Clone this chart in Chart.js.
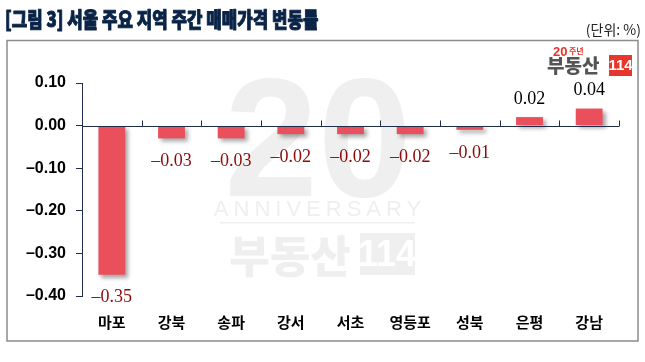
<!DOCTYPE html>
<html><head><meta charset="utf-8">
<script src="https://cdn.jsdelivr.net/npm/chart.js@4/dist/chart.umd.min.js"></script>
<style>
html,body{margin:0;padding:0;background:#fff;}
#wrap{position:relative;width:645px;height:362px;}
canvas{position:absolute;left:0;top:0;}
</style></head><body>
<div id="wrap"><canvas id="c" width="645" height="362"></canvas></div>
<script>
const titleText = "[그림 3] 서울 주요 지역 주간 매매가격 변동률";
const unitText = "(단위: %)";
const categories = ["마포","강북","송파","강서","서초","영등포","성북","은평","강남"];
const changeValues = [-0.35,-0.03,-0.03,-0.02,-0.02,-0.02,-0.01,0.02,0.04];
const yTicks = [0.10,0.00,-0.10,-0.20,-0.30,-0.40];

const fmt = v => (v < 0 ? "–" : "") + Math.abs(v).toFixed(2);

const decor = {
  id: 'decor',
  beforeDraw(chart) {
    const ctx = chart.ctx;
    ctx.save();
    ctx.fillStyle = '#fff';
    ctx.fillRect(0,0,chart.width,chart.height);
    // title (condensed headline look)
    ctx.save();
    ctx.translate(5, 19);
    ctx.scale(0.8, 1);
    ctx.fillStyle = '#0a2447';
    ctx.strokeStyle = '#0a2447';
    ctx.lineWidth = 1;
    ctx.lineJoin = 'round';
    ctx.font = '900 21px "Noto Sans CJK KR"';
    ctx.textBaseline = 'middle';
    ctx.textAlign = 'left';
    ctx.fillText(titleText, 0, 0);
    ctx.strokeText(titleText, 0, 0);
    ctx.restore();
    ctx.fillStyle = '#222';
    ctx.textBaseline = 'middle';
    ctx.font = '14px "Noto Sans CJK KR"';
    ctx.textAlign = 'right';
    ctx.fillText(unitText, 641, 30);
    // frame
    ctx.strokeStyle = '#8c8c8c';
    ctx.lineWidth = 1.5;
    ctx.strokeRect(7, 40.5, 631, 300.5);
    // watermark
    ctx.fillStyle = '#efefef';
    ctx.textAlign = 'center';
    ctx.font = 'bold 168px "Liberation Sans"';
    ctx.fillText('20', 318, 150);
    ctx.font = '22px "Liberation Sans"';
    if ('letterSpacing' in ctx) ctx.letterSpacing = '5px';
    ctx.fillText('ANNIVERSARY', 320, 210);
    if ('letterSpacing' in ctx) ctx.letterSpacing = '0px';
    ctx.fillRect(220, 222, 195, 1.5);
    ctx.font = '900 44px "Noto Sans CJK KR"';
    ctx.fillText('부동산', 290, 256);
    ctx.fillRect(360, 233, 55, 42);
    ctx.fillStyle = '#fff';
    ctx.font = 'bold 36px "Liberation Sans Narrow", "Liberation Sans"';
    ctx.fillText('114', 387, 256);
    // logo
    ctx.fillStyle = '#e8362c';
    ctx.font = 'bold 13px "Liberation Sans"';
    ctx.textAlign = 'left';
    ctx.fillText('20', 553, 52);
    ctx.font = 'bold 8px "Noto Sans CJK KR"';
    ctx.fillText('주년', 569, 51);
    ctx.fillStyle = '#555';
    ctx.font = '900 19px "Noto Sans CJK KR"';
    ctx.fillText('부동산', 547, 66);
    ctx.fillStyle = '#e8362c';
    ctx.fillRect(609, 55, 23, 21);
    ctx.fillStyle = '#fff';
    ctx.font = 'bold 15px "Liberation Sans Narrow", "Liberation Sans"';
    ctx.textAlign = 'center';
    ctx.fillText('114', 620.5, 66);
    ctx.restore();
  },
  beforeDatasetsDraw(chart) {
    const ctx = chart.ctx;
    ctx.save();
    ctx.shadowColor = 'rgba(0,0,0,0.35)';
    ctx.shadowOffsetX = 3;
    ctx.shadowOffsetY = 3;
    ctx.shadowBlur = 4;
  },
  afterDatasetsDraw(chart) {
    const ctx = chart.ctx;
    ctx.restore();
    ctx.save();
    const x = chart.scales.x, y = chart.scales.y;
    const y0 = Math.round(y.getPixelForValue(0)) + 0.5;
    const step = x.getPixelForValue(1) - x.getPixelForValue(0);
    ctx.strokeStyle = '#1f2d4d';
    ctx.lineWidth = 1;
    ctx.beginPath();
    ctx.moveTo(chart.chartArea.left, y0);
    ctx.lineTo(chart.chartArea.right, y0);
    for (let i = 0; i < categories.length; i++) {
      const px = Math.round(x.getPixelForValue(i) + step / 2) + 0.5;
      ctx.moveTo(px, y0);
      ctx.lineTo(px, y0 - 6);
    }
    ctx.stroke();
    // labels
    const meta = chart.getDatasetMeta(0);
    ctx.font = '18px "Liberation Serif"';
    ctx.textAlign = 'center';
    ctx.textBaseline = 'middle';
    meta.data.forEach((bar, i) => {
      const v = changeValues[i];
      if (v < 0) {
        ctx.fillStyle = '#8b0a0a';
        ctx.fillText(fmt(v), bar.x, bar.y + 23);
      } else {
        ctx.fillStyle = '#000';
        ctx.fillText(fmt(v), bar.x, bar.y - 18);
      }
    });
    ctx.restore();
  }
};

new Chart(document.getElementById('c'), {
  type: 'bar',
  data: {
    labels: categories,
    datasets: [{
      data: changeValues,
      backgroundColor: '#e9505c',
      borderWidth: 0,
      categoryPercentage: 1,
      barPercentage: 0.45
    }]
  },
  options: {
    responsive: false,
    animation: false,
    events: [],
    layout: { padding: { left: 0, right: 26, top: 83, bottom: 14 } },
    plugins: { legend: { display: false }, tooltip: { enabled: false } },
    scales: {
      x: {
        grid: { display: false, drawTicks: false },
        border: { display: false },
        ticks: { padding: 17, color: '#000', font: { family: '"Noto Sans CJK KR"', size: 15, weight: 'bold' } }
      },
      y: {
        min: -0.40, max: 0.10,
        afterFit(s) { s.width = 82; },
        afterBuildTicks(s) { s.ticks = yTicks.map(v => ({ value: v })); },
        grid: { drawOnChartArea: false, tickColor: '#1f2d4d', tickLength: 6, tickWidth: 1 },
        border: { display: true, color: '#1f2d4d', width: 1 },
        ticks: {
          padding: 10,
          color: '#000',
          font: { family: '"Liberation Sans"', size: 16, weight: 'bold' },
          callback: v => fmt(v)
        }
      }
    }
  },
  plugins: [decor]
});
</script>
</body></html>
